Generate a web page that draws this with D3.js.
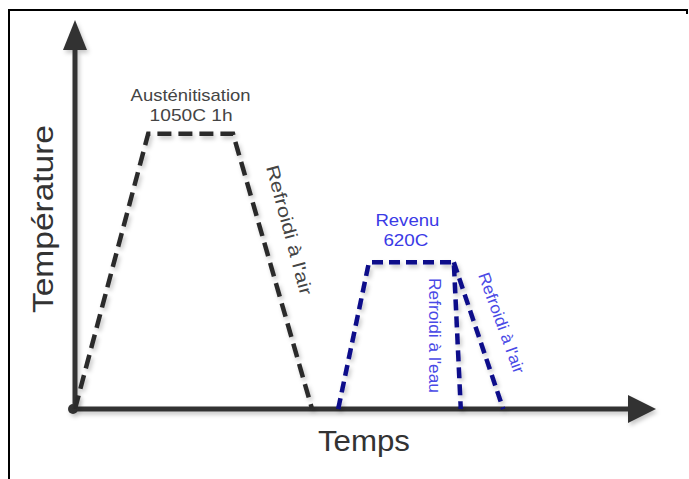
<!DOCTYPE html>
<html>
<head>
<meta charset="utf-8">
<script src="https://cdn.jsdelivr.net/npm/d3@7"></script>
<style>
  body { margin: 0; background: #fff; }
  svg { display: block; font-family: "Liberation Sans", Arial, sans-serif; }
</style>
</head>
<body>
<svg id="chart"></svg>
<script>
// schematic time units (x) and plotted temperature level (y)
var austTime = [0, 12.6, 27.2, 40.8];
var austTemp = [0, 1050, 1050, 0];

var revenuTime = [45.3, 50.6, 65.2, 66.4];
var revenuTemp = [0, 560, 560, 0];

// second cooling branch (air) starting from the end of the plateau
var revenuAirTime = [65.2, 73.7];
var revenuAirTemp = [560, 0];

var stepLabels = ["Austénitisation", "1050C 1h", "Revenu", "620C"];
var coolLabels = ["Refroidi à l'air", "Refroidi à l'eau", "Refroidi à l'air"];

var svgWidth = 689;
var svgHeight = 479;

var svg = d3.select("#chart")
  .attr("width", svgWidth)
  .attr("height", svgHeight);

var xScale = d3.scaleLinear().domain([0, 100]).range([75, 656]);
var yScale = d3.scaleLinear().domain([0, 1484]).range([409, 20]);

var defs = svg.append("defs");
var shadow = defs.append("filter").attr("id", "shadow")
  .attr("x", "-20%").attr("y", "-20%").attr("width", "140%").attr("height", "140%");
shadow.append("feDropShadow")
  .attr("dx", 2).attr("dy", 3).attr("stdDeviation", 2)
  .attr("flood-color", "#000").attr("flood-opacity", 0.22);

// frame (top + left only, like the cropped scan)
svg.append("path")
  .attr("d", "M9,479 L9,10 L687,10 L687,14")
  .attr("fill", "none")
  .attr("stroke", "#000")
  .attr("stroke-width", 2);

// axes
var axes = svg.append("g").attr("filter", "url(#shadow)");
var x0 = xScale(0), y0 = yScale(0);
var xEnd = xScale(100), yEnd = yScale(1484);

axes.append("line")
  .attr("x1", x0).attr("y1", y0)
  .attr("x2", xEnd - 28).attr("y2", y0)
  .attr("stroke", "#333").attr("stroke-width", 5);
axes.append("line")
  .attr("x1", x0).attr("y1", y0)
  .attr("x2", x0).attr("y2", yEnd + 30)
  .attr("stroke", "#333").attr("stroke-width", 5);
axes.append("path")
  .attr("d", "M" + xEnd + "," + y0 + " L" + (xEnd - 28) + "," + (y0 - 14) +
    " L" + (xEnd - 28) + "," + (y0 + 14) + "Z")
  .attr("fill", "#333");
axes.append("path")
  .attr("d", "M" + x0 + "," + yEnd + " L" + (x0 - 12) + "," + (yEnd + 30) +
    " L" + (x0 + 12) + "," + (yEnd + 30) + "Z")
  .attr("fill", "#333");
axes.append("circle")
  .attr("cx", x0 - 2).attr("cy", y0).attr("r", 5)
  .attr("fill", "#333");

// curves
var line = d3.line()
  .x(function(d) { return xScale(d[0]); })
  .y(function(d) { return yScale(d[1]); });

var curves = svg.append("g").attr("filter", "url(#shadow)");

curves.append("path")
  .datum(d3.zip(austTime, austTemp))
  .attr("d", line)
  .attr("fill", "none")
  .attr("stroke", "#2b2b2b")
  .attr("stroke-width", 4.5)
  .attr("stroke-dasharray", "14,7");

curves.append("path")
  .datum(d3.zip(revenuTime, revenuTemp))
  .attr("d", line)
  .attr("fill", "none")
  .attr("stroke", "#0b0b8a")
  .attr("stroke-width", 4.5)
  .attr("stroke-dasharray", "11,6");

curves.append("path")
  .datum(d3.zip(revenuAirTime, revenuAirTemp))
  .attr("d", line)
  .attr("fill", "none")
  .attr("stroke", "#0b0b8a")
  .attr("stroke-width", 4.5)
  .attr("stroke-dasharray", "11,6");

// text helper: font size + stretched length to mimic the scan's wide lettering
function label(txt, size, len, fill) {
  return svg.append("text").text(txt)
    .attr("font-size", size)
    .attr("textLength", len)
    .attr("lengthAdjust", "spacingAndGlyphs")
    .attr("fill", fill);
}

// labels above plateaus
var austMid = xScale((austTime[1] + austTime[2]) / 2);
var revMid = xScale((revenuTime[1] + revenuTime[2]) / 2);

label(stepLabels[0], 17, 120, "#444")
  .attr("x", austMid - 60).attr("y", yScale(austTemp[1]) - 33);
label(stepLabels[1], 17, 83, "#444")
  .attr("x", austMid - 41).attr("y", yScale(austTemp[1]) - 13);
label(stepLabels[2], 17, 64, "#3a3ae6")
  .attr("x", revMid - 36).attr("y", yScale(revenuTemp[1]) - 36);
label(stepLabels[3], 17, 45, "#3a3ae6")
  .attr("x", revMid - 28).attr("y", yScale(revenuTemp[1]) - 16);

// rotated cooling labels
label(coolLabels[0], 18, 134, "#444")
  .attr("transform", "translate(266,167) rotate(75)");
label(coolLabels[1], 16.5, 115, "#4a4ae6")
  .attr("transform", "translate(429,278) rotate(90)");
label(coolLabels[2], 16.5, 106, "#4a4ae6")
  .attr("transform", "translate(478,275) rotate(70)");

// axis titles
label("Température", 30, 188, "#333")
  .attr("transform", "translate(53,313) rotate(-90)");
label("Temps", 29, 92, "#333")
  .attr("x", 318).attr("y", 451);
</script>
</body>
</html>
